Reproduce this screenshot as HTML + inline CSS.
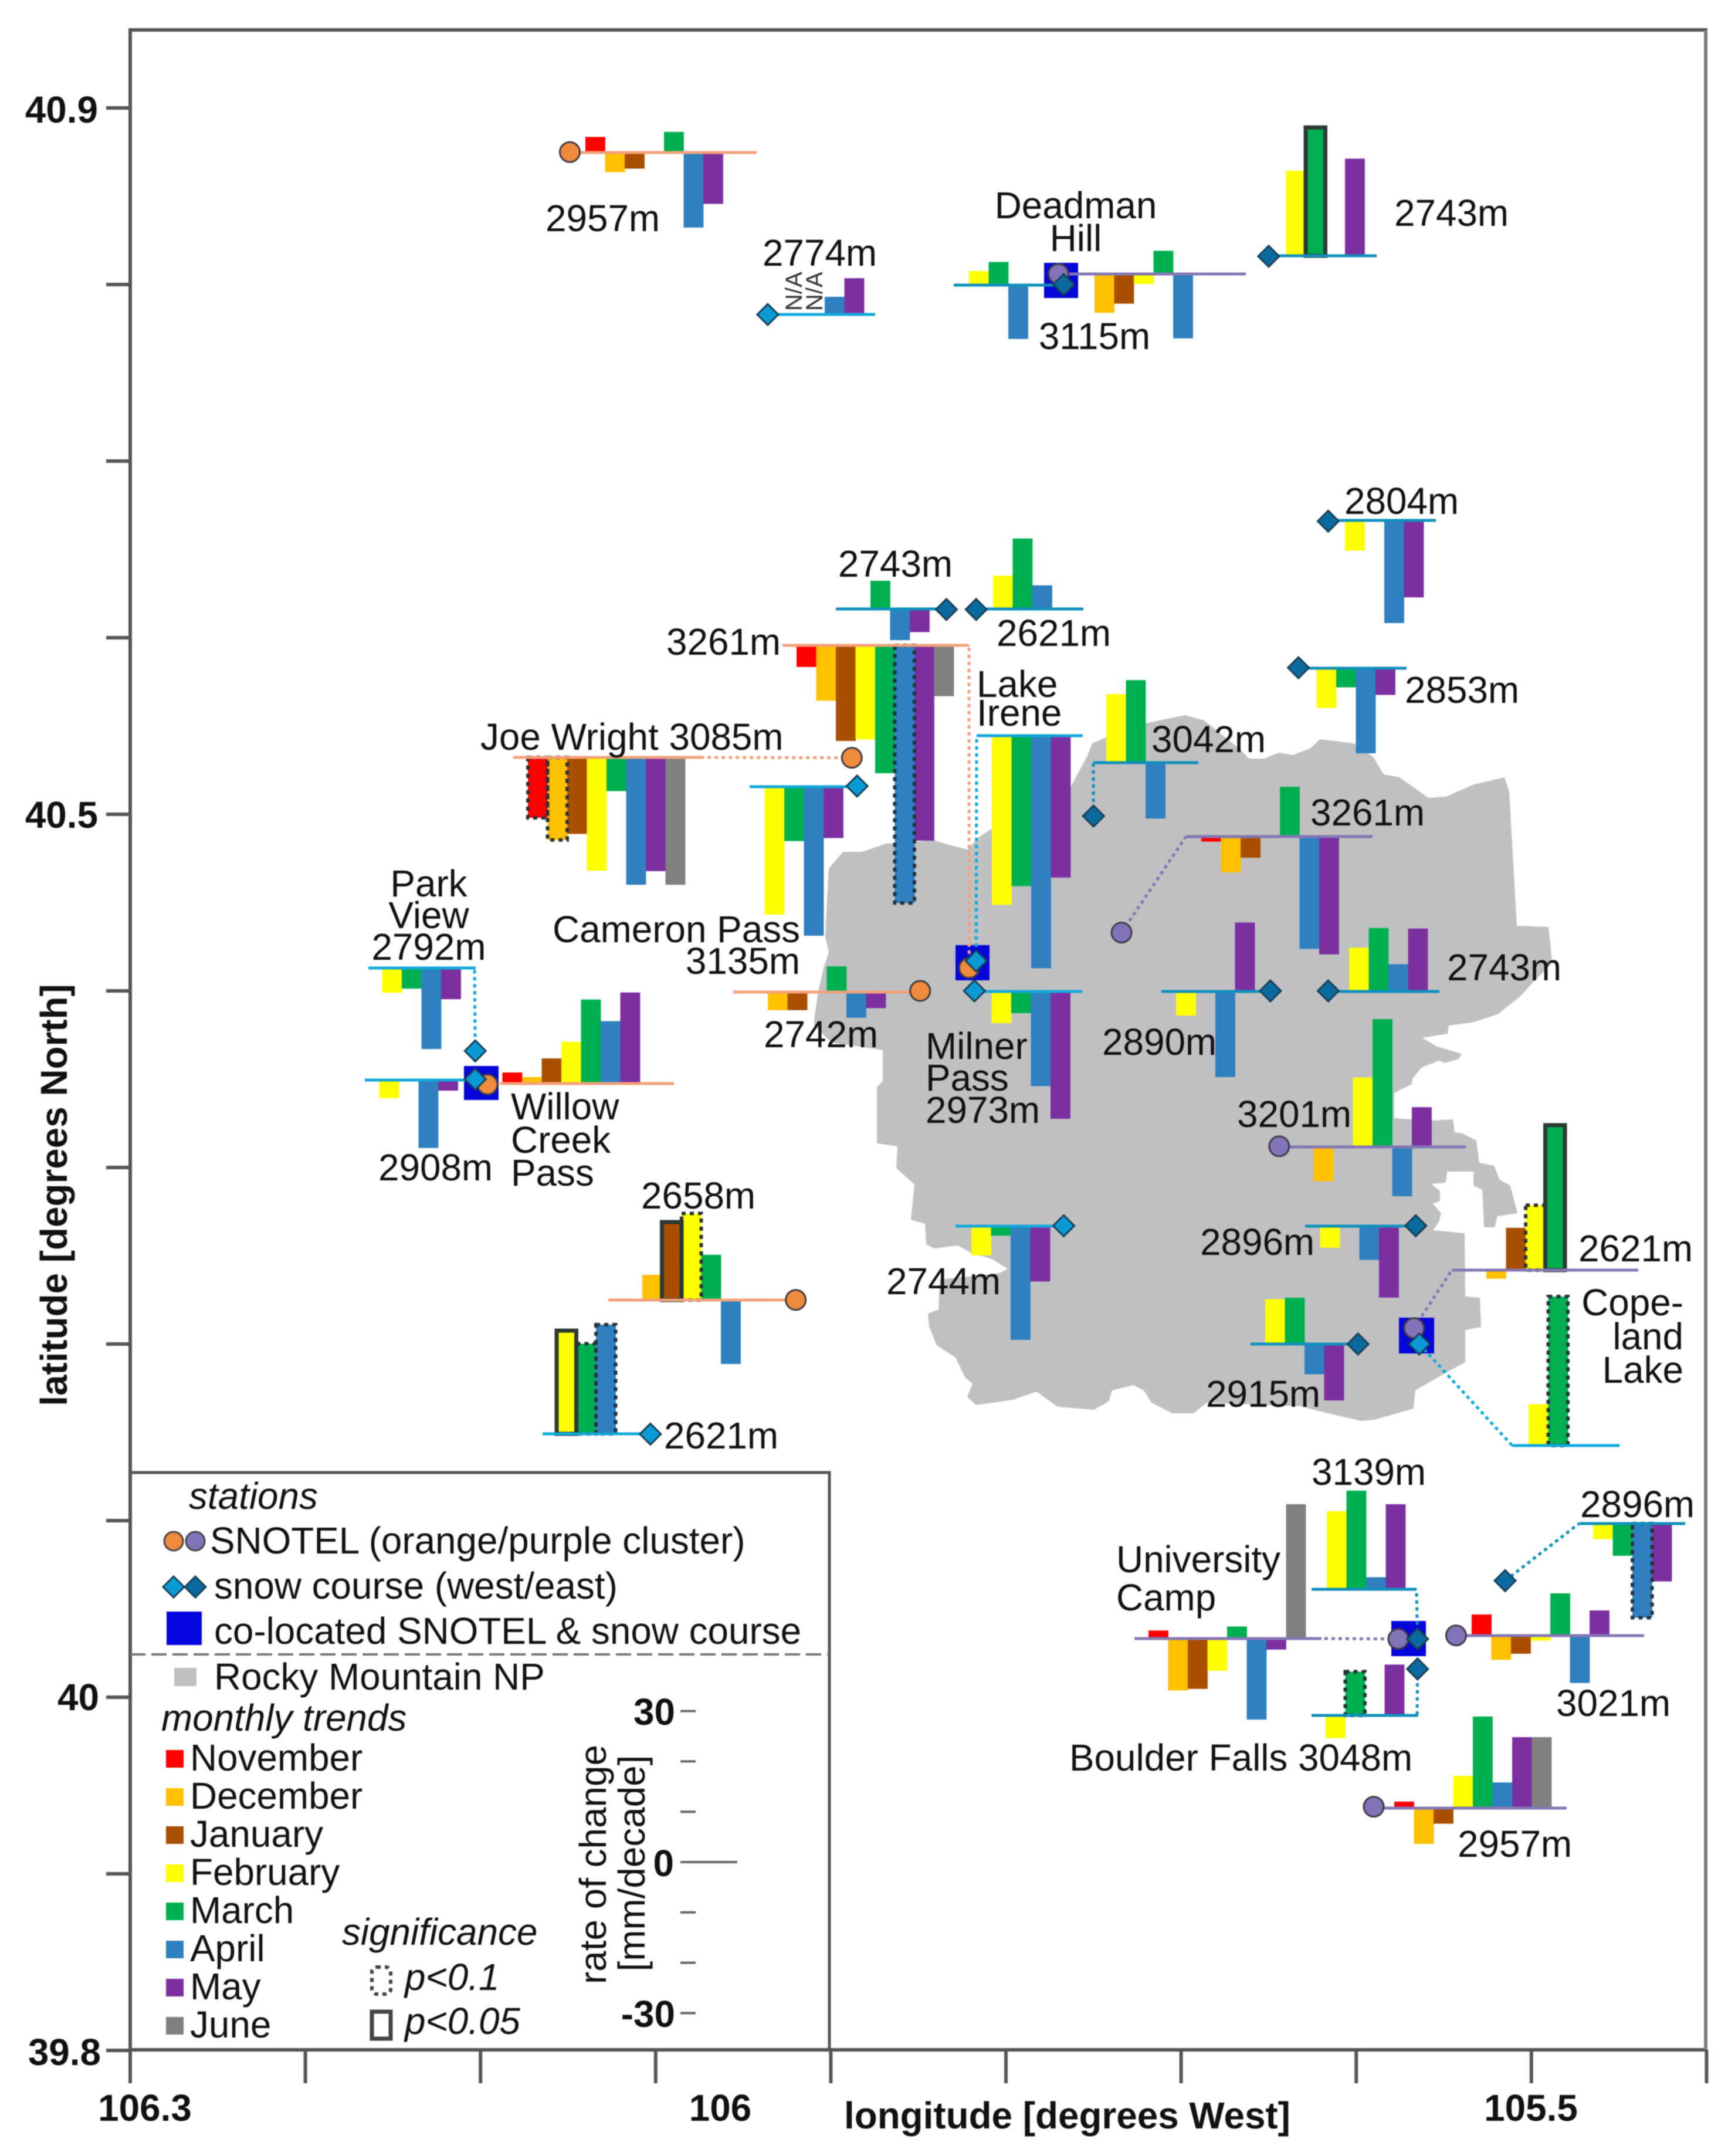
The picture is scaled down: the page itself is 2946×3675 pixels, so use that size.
<!DOCTYPE html>
<html lang="en">
<head>
<meta charset="utf-8">
<title>Monthly snow trends by station</title>
<style>
html,body{margin:0;padding:0;background:#fff;}
svg{display:block;filter:blur(0.7px);}
text{font-family:"Liberation Sans",sans-serif;fill:#111;font-size:63.8px;}
.b{font-weight:bold;}
.i{font-style:italic;}
</style>
</head>
<body>
<svg id="chart" xmlns="http://www.w3.org/2000/svg" width="2946" height="3675" viewBox="0 0 2946 3675">
<rect width="2946" height="3675" fill="#fff"/>
<polygon fill="#bfc0c2" points="1690,1413 1667,1428 1650,1448 1617,1440 1593,1432 1510,1438 1470,1452 1437,1452 1413,1480 1410,1533 1407,1597 1413,1623 1405,1647 1395,1690 1388,1737 1388,1747 1417,1777 1505,1790 1505,1843 1495,1853 1495,1949 1530,1954 1528,1991 1559,2019 1557,2040 1553,2079 1577,2086 1579,2121 1593,2128 1633,2123 1655,2135 1691,2146 1718,2163 1704,2170 1602,2181 1600,2232 1582,2239 1584,2261 1597,2293 1629,2314 1646,2349 1658,2358 1649,2381 1664,2395 1727,2386 1767,2372 1803,2398 1865,2403 1890,2389 1896,2370 1932,2361 1950,2370 1963,2391 1999,2409 2035,2409 2057,2391 2217,2397 2256,2407 2320,2422 2343,2420 2410,2401 2413,2370 2463,2341 2498,2322 2498,2267 2525,2262 2523,2212 2498,2210 2497,2102 2443,2097 2453,2083 2457,2068 2443,2052 2455,2047 2455,2030 2440,2018 2465,2016 2467,1997 2512,1997 2512,2021 2527,2028 2530,2092 2548,2092 2553,2073 2587,2068 2575,2021 2557,2011 2547,1987 2522,1982 2517,1944 2493,1932 2480,1930 2477,1908 2440,1910 2377,1906 2377,1863 2407,1848 2408,1839 2423,1820 2453,1808 2463,1812 2487,1805 2492,1796 2450,1784 2425,1769 2468,1762 2470,1748 2510,1743 2553,1729 2590,1700 2614,1674 2646,1642 2644,1617 2640,1580 2586,1578 2573,1350 2565,1325 2513,1337 2465,1358 2435,1360 2386,1325 2359,1320 2341,1290 2307,1267 2250,1260 2235,1275 2204,1287 2180,1283 2156,1293 2129,1293 2114,1277 2053,1228 2020,1219 2005,1222 1953,1233 1883,1258 1862,1267 1853,1290 1826,1340 1750,1380"/>
<rect x="222" y="51" width="2686" height="3443" fill="none" stroke="#555" stroke-width="6"/>
<line x1="2908" y1="51" x2="2908" y2="3494" stroke="#7d7d7d" stroke-width="6"/>
<g id="axis-ticks"></g>

<g fill="#0606d8">
<rect x="1780" y="448" width="58" height="60"/>
<rect x="1629" y="1611" width="58" height="60"/>
<rect x="791" y="1817" width="59" height="58"/>
<rect x="2385" y="2246" width="60" height="61"/>
<rect x="2372" y="2763" width="59" height="60"/>
</g>

<g id="stations"></g>

<g>
<text transform="translate(1367,530) rotate(-90)" style="font-size:40px;fill:#333">N/A</text>
<text transform="translate(1402,530) rotate(-90)" style="font-size:40px;fill:#333">N/A</text>
</g>

<g>
<text x="930" y="394">2957m</text>
<text x="1300" y="453">2774m</text>
<text x="1834" y="372" text-anchor="middle">Deadman</text>
<text x="1834" y="428" text-anchor="middle">Hill</text>
<text x="1866" y="595" text-anchor="middle">3115m</text>
<text x="2377" y="385">2743m</text>
<text x="2292" y="876">2804m</text>
<text x="2395" y="1198">2853m</text>
<text x="1963" y="1282">3042m</text>
<text x="2234" y="1407">3261m</text>
<text x="2467" y="1671">2743m</text>
<text x="1879" y="1798">2890m</text>
<text x="1578" y="1805">Milner</text>
<text x="1578" y="1859">Pass</text>
<text x="1578" y="1914">2973m</text>
<text x="1665" y="1188">Lake</text>
<text x="1665" y="1237">Irene</text>
<text x="1136" y="1116">3261m</text>
<text x="1624" y="983" text-anchor="end">2743m</text>
<text x="1699" y="1101">2621m</text>
<text x="819" y="1278">Joe Wright 3085m</text>
<text x="1364" y="1606" text-anchor="end">Cameron Pass</text>
<text x="1364" y="1660" text-anchor="end">3135m</text>
<text x="1302" y="1785">2742m</text>
<text x="731" y="1528" text-anchor="middle">Park</text>
<text x="731" y="1582" text-anchor="middle">View</text>
<text x="731" y="1636" text-anchor="middle">2792m</text>
<text x="645" y="2012">2908m</text>
<text x="871" y="1908">Willow</text>
<text x="871" y="1965">Creek</text>
<text x="871" y="2021">Pass</text>
<text x="1093" y="2060">2658m</text>
<text x="1132" y="2469">2621m</text>
<text x="1511" y="2206">2744m</text>
<text x="2046" y="2139">2896m</text>
<text x="2109" y="1921">3201m</text>
<text x="2056" y="2398">2915m</text>
<text x="2691" y="2150">2621m</text>
<text x="2870" y="2242" text-anchor="end">Cope-</text>
<text x="2870" y="2300" text-anchor="end">land</text>
<text x="2870" y="2357" text-anchor="end">Lake</text>
<text x="2236" y="2531">3139m</text>
<text x="1903" y="2680">University</text>
<text x="1903" y="2745">Camp</text>
<text x="1823" y="3018">Boulder Falls 3048m</text>
<text x="2653" y="2925">3021m</text>
<text x="2694" y="2586">2896m</text>
<text x="2485" y="3165">2957m</text>
</g>

<g>
<text class="b" x="167" y="209" text-anchor="end">40.9</text>
<text class="b" x="167" y="1411" text-anchor="end">40.5</text>
<text class="b" x="169" y="2915" text-anchor="end">40</text>
<text class="b" x="172" y="3520" text-anchor="end">39.8</text>
<text class="b" x="247" y="3615" text-anchor="middle">106.3</text>
<text class="b" x="1228" y="3615" text-anchor="middle">106</text>
<text class="b" x="2610" y="3615" text-anchor="middle">105.5</text>
<text class="b" x="1439" y="3628">longitude [degrees West]</text>
<text class="b" transform="translate(114,2037) rotate(-90)" text-anchor="middle">latitude [degrees North]</text>
</g>

<g>
<rect x="222" y="2510" width="1192" height="984" fill="none" stroke="#555" stroke-width="5"/>
<line x1="222" y1="2820" x2="1414" y2="2820" stroke="#777" stroke-width="4" stroke-dasharray="26 10"/>
<text class="i" x="322" y="2572">stations</text>
<circle cx="296" cy="2627" r="16" fill="#f08a3c" stroke="#444" stroke-width="3"/>
<circle cx="333" cy="2627" r="16" fill="#8273b8" stroke="#444" stroke-width="3"/>
<text x="358" y="2648">SNOTEL (orange/purple cluster)</text>
<polygon points="296,2687 314,2705 296,2723 278,2705" fill="#0a9bd6" stroke="#173f55" stroke-width="3"/>
<polygon points="333,2687 351,2705 333,2723 315,2705" fill="#0b6a9e" stroke="#173f55" stroke-width="3"/>
<text x="365" y="2725">snow course (west/east)</text>
<rect x="284" y="2747" width="60" height="57" fill="#0606e0"/>
<text x="365" y="2802">co-located SNOTEL &amp; snow course</text>
<rect x="297" y="2843" width="38" height="31" fill="#bfc0c2"/>
<text x="365" y="2880">Rocky Mountain NP</text>
<text class="i" x="275" y="2950">monthly trends</text>
<g id="legend-months"></g>
<text class="i" x="583" y="3315">significance</text>
<rect x="634" y="3353" width="32" height="46" rx="8" fill="none" stroke="#444" stroke-width="6" stroke-dasharray="7 7"/>
<text class="i" x="690" y="3392">p&lt;0.1</text>
<rect x="634" y="3429" width="32" height="46" fill="none" stroke="#444" stroke-width="7"/>
<text class="i" x="690" y="3467">p&lt;0.05</text>
<text class="b" x="1151" y="2940" text-anchor="end">30</text>
<text class="b" x="1149" y="3198" text-anchor="end">0</text>
<text class="b" x="1151" y="3455" text-anchor="end">-30</text>
<text transform="translate(1033,3178) rotate(-90)" text-anchor="middle">rate of change</text>
<text transform="translate(1099,3176) rotate(-90)" text-anchor="middle">[mm/decade]</text>
<g id="rate-ticks"></g>
</g>
</svg>

<script>
const months = ['November','December','January','February','March','April','May','June'];
const latTicks = [40.9,40.8,40.7,40.6,40.5,40.4,40.3,40.2,40.1,40.0,39.9,39.8];
const lonTicks = [106.3,106.2,106.1,106.0,105.9,105.8,105.7,105.6,105.5,105.4];
const rateTicks = [30,20,10,0,-10,-20,-30];

const stationNames = ['2957m north','2774m','Deadman Hill course','Deadman Hill 3115m','2743m north','2804m','2853m','3042m','3261m east','2743m east','2890m','Milner Pass 2973m','Lake Irene','3261m west','2743m mid','2621m mid','Joe Wright 3085m','Cameron Pass 3135m','2742m','Park View 2792m','2908m','Willow Creek Pass','2658m','2621m southwest','2744m','2896m park','3201m','2915m','2621m east','Copeland Lake','University Camp','3139m','Boulder Falls 3048m','3021m','2896m east','2957m south'];
const stationTypes = ['o','w','e','p','e','e','e','e','p','e','e','w','w','o','e','e','o','w','o','w','w','o','o','w','w','e','p','e','p','w','p','e','e','p','e','p'];
const stationLon = [106.049,105.936,105.767,105.770,105.650,105.616,105.633,105.750,105.734,105.616,105.649,105.818,105.817,105.821,105.834,105.817,105.888,105.885,105.849,106.103,106.103,106.096,105.920,106.003,105.767,105.566,105.644,105.599,105.567,105.564,105.576,105.565,105.565,105.543,105.515,105.590];
const stationLat = [40.875,40.783,40.800,40.806,40.816,40.666,40.583,40.499,40.433,40.400,40.400,40.400,40.417,40.413,40.616,40.616,40.532,40.516,40.400,40.366,40.350,40.347,40.225,40.149,40.267,40.267,40.312,40.200,40.209,40.200,40.033,40.033,40.016,40.035,40.066,39.938];

// rate of change [mm/decade], Nov..Jun, one row per station
const stationTrends = [
[3.1,-3.9,-3.2,0,4.1,-14.9,-10.2,0],
[0,0,0,0,0,3.5,7.2,0],
[0,0,0,2.8,4.6,-10.7,0,0],
[0,-7.7,-5.9,-2,4.6,-12.8,0,0],
[0,0,0,16.9,25.5,0,19.3,0],
[0,0,0,-6,0,-20.4,-15.3,0],
[0,0,0,-7.9,-3.8,-16.9,-5.3,0],
[0,0,0,13.6,16.4,-11.1,0,0],
[-1,-7.1,-4.2,0,9.9,-22.3,-23.4,0],
[0,0,0,8.7,12.6,5.4,12.5,0],
[0,0,0,-4.8,0,-17,13.7,0],
[0,0,0,-6.3,-4.3,-18.8,-25.3,0],
[0,0,0,-33.6,-29.9,-46.2,-28.2,0],
[-4.3,-11,-19,-18.7,-25.4,-51.2,-38.8,-10.1],
[0,0,0,0,5.6,-6.2,-4.6,0],
[0,0,0,6.6,14,4.7,0,0],
[-12,-16.4,-15.2,-22.5,-6.7,-25.3,-22.6,-25.3],
[0,0,0,-25.4,-10.8,-29.6,-10.2,0],
[0,-3.6,-3.6,0,5.1,-5.1,-3.2,0],
[0,0,0,-4.9,-4.1,-16.1,-6.2,0],
[0,0,0,-3.6,0,-13.5,-2.1,0],
[2.2,1.3,5,8.3,16.7,12.4,18.1,0],
[0,5,15.5,17.2,9,-12.7,0,0],
[0,0,0,20.5,17.9,21.7,0,0],
[0,0,0,-5.8,-1.9,-22.6,-11,0],
[0,0,0,-4.3,0,-6.7,-14.2,0],
[0,-6.8,0,13.8,25.4,-9.8,7.9,0],
[0,0,0,8.9,9.2,-6,-11.2,0],
[0,-1.7,8.4,12.9,28.8,0,0,0],
[0,0,0,8.2,29.6,0,0,0],
[1.6,-10.3,-10,-6.4,2.4,-16.1,-2.2,26.7],
[0,0,0,15.5,19.6,2.4,16.9,0],
[0,0,0,-4.5,8.7,0,10.1,0],
[4.2,-4.8,-3.6,-1,8.4,-9.4,5,0],
[0,0,0,-3.1,-6.4,-18.7,-11.5,0],
[1.3,-7.1,-3.1,6.4,18.2,5.1,14.1,14.1]
];

// significance: [station index, month index]
const significantP10 = [[13,5],[16,0],[16,1],[22,3],[23,4],[23,5],[28,3],[29,4],[32,4],[34,5]];
const significantP05 = [[4,4],[22,2],[23,3],[28,4]];

// presentation only: where each small inset sits on the page
const MONTH_COLORS = ['#ff0000','#ffc000','#a94f00','#ffff00','#00b050','#2f80c0','#7c30a0','#808080'];
const LINE_COLORS = {o:'#f2a27a',p:'#8577b5',w:'#12a8da',e:'#1190bc'};
const MARKER_COLORS = {o:'#f08a3c',p:'#8273b8',w:'#0a9bd6',e:'#0b6a9e'};
const INSET_LAYOUT = [
{x0:998,y:260,a:986,b:1290},{x0:1238.5,y:536,a:1310,b:1492},{x0:1551.5,y:486,a:1626,b:1813},{x0:1832.5,y:467,a:1804,b:2124},
{x0:2092,y:436,a:2164,b:2347},{x0:2192.5,y:887,a:2265,b:2448},{x0:2144,y:1139,a:2214,b:2398},{x0:1785.5,y:1300,a:1864,b:2043,cx:1864,cy:1300},
{x0:2048,y:1426,a:2022,b:2340,cx:2022,cy:1426},{x0:2199.5,y:1690,a:2265,b:2454},{x0:1904.5,y:1690,a:1980,b:2167},{x0:1590,y:1690,a:1662,b:1845},
{x0:1590.5,y:1254,a:1665,b:1846,cx:1665,cy:1254},{x0:1358,y:1100,a:1334,b:1652,cx:1652,cy:1100},{x0:1350,y:1038,a:1425,b:1613},{x0:1592.5,y:1038,a:1663,b:1847},
{x0:900,y:1291,a:875,b:1196,cx:1196,cy:1291},{x0:1203,y:1341,a:1278,b:1462},{x0:1275.5,y:1691,a:1250,b:1570},{x0:551,y:1650,a:628,b:811,cx:809,cy:1650},
{x0:546,y:1841,a:622,b:809},{x0:856.5,y:1847,a:852,b:1149},{x0:1061.5,y:2216,a:1037,b:1356},{x0:848.5,y:2444,a:925,b:1109},
{x0:1555.5,y:2090,a:1629,b:1815},{x0:2150,y:2090,a:2225,b:2414},{x0:2206,y:1955,a:2180,b:2499},{x0:2056.5,y:2291,a:2132,b:2314},
{x0:2500.5,y:2165,a:2475,b:2793,cx:2475,cy:2165},{x0:2505.5,y:2464,a:2578,b:2761,cx:2578,cy:2464},{x0:1958,y:2793,a:1934,b:2253,cx:2253,cy:2793},{x0:2161.5,y:2709,a:2236,b:2415,cx:2415,cy:2709},
{x0:2159.5,y:2924,a:2236,b:2418,cx:2416,cy:2924},{x0:2509,y:2788,a:2483,b:2803},{x0:2615.5,y:2597,a:2692,b:2873,cx:2692,cy:2597},{x0:2377,y:3082,a:2342,b:2671}
];

const NS = 'http://www.w3.org/2000/svg';
const SLOT = 33.5;

function xScale(lon){ return 222 + (106.3 - lon) / 0.1 * 298.6; }
function yScale(lat){ return 184 + (40.9 - lat) / 0.1 * 301; }
function rateHeight(v){ return v * 8.58; }
function rateY(v){ return 3174 - rateHeight(v); }

function shape(parent, tag, attrs){
  const el = document.createElementNS(NS, tag);
  Object.keys(attrs).forEach(function(k){ el.setAttribute(k, attrs[k]); });
  parent.appendChild(el);
  return el;
}
function hasFlag(list, s, m){
  return list.some(function(p){ return p[0] === s && p[1] === m; });
}

// map axes
const tickGroup = document.getElementById('axis-ticks');
latTicks.forEach(function(lat){
  const y = yScale(lat);
  const el = shape(tickGroup, 'line', {x1:181, x2:222, y1:y, y2:y, stroke:'#555', 'stroke-width':6});
  
  
});
lonTicks.forEach(function(lon){
  const x = xScale(lon);
  const el = shape(tickGroup, 'line', {x1:x, x2:x, y1:3494, y2:3551, stroke:'#555', 'stroke-width':6});
  
  
});

// rate scale
const rateGroup = document.getElementById('rate-ticks');
rateTicks.forEach(function(v){
  const y = rateY(v);
  const el = shape(rateGroup, 'line', {x1:1160, x2:v === 0 ? 1257 : 1186, y1:y, y2:y, stroke:'#666', 'stroke-width':4});
  
  
});

// legend months
const monthGroup = document.getElementById('legend-months');
months.forEach(function(m, i){
  const sw = shape(monthGroup, 'rect', {x:283, y:2983 + i * 65, width:30, height:30, fill:MONTH_COLORS[i]});
  
  
  const t = shape(monthGroup, 'text', {x:324, y:3018 + i * 65});
  t.textContent = m;
  
  
});

// station insets
const root = document.getElementById('stations');
const circleLayer = document.createElementNS(NS, 'g');
const diamondLayer = document.createElementNS(NS, 'g');
stationNames.forEach(function(name, s){
  const L = INSET_LAYOUT[s];
  const type = stationTypes[s];
  const slug = name.toLowerCase().replace(/[^a-z0-9]+/g, '-');
  const g = shape(root, 'g', {});
  
  
  stationTrends[s].forEach(function(v, m){
    if (v === 0) return;
    const h = Math.abs(rateHeight(v));
    const top = v > 0 ? L.y - h : L.y;
    const x = L.x0 + m * SLOT;
    const bar = shape(g, 'rect', {x:x, y:top, width:SLOT + 0.4, height:h, fill:MONTH_COLORS[m]});
    
    
  });
  stationTrends[s].forEach(function(v, m){
    if (v === 0) return;
    const p10 = hasFlag(significantP10, s, m);
    const p05 = hasFlag(significantP05, s, m);
    if (!p10 && !p05) return;
    const h = Math.abs(rateHeight(v));
    const top = v > 0 ? L.y - h : L.y;
    const box = shape(g, 'rect', {x:L.x0 + m * SLOT, y:top, width:SLOT, height:h, fill:'none', stroke:p05 ? '#2b3a34' : '#27323c', 'stroke-width':p05 ? 7 : 6, 'stroke-dasharray':p05 ? 'none' : '7 7'});
    
    
  });
  const base = shape(g, 'line', {x1:L.a, x2:L.b, y1:L.y, y2:L.y, stroke:LINE_COLORS[type], 'stroke-width':5});
  
  
  const mx = xScale(stationLon[s]);
  const my = yScale(stationLat[s]);
  if (L.cx !== undefined) {
    const link = shape(g, 'line', {x1:mx, y1:my, x2:L.cx, y2:L.cy, stroke:LINE_COLORS[type], 'stroke-width':5, 'stroke-dasharray':'6 6'});
    
    
  }
  let marker;
  if (type === 'o' || type === 'p') {
    marker = shape(circleLayer, 'circle', {cx:mx, cy:my, r:17, fill:MARKER_COLORS[type], stroke:'#3f3a44', 'stroke-width':3});
  } else {
    const r = 18;
    marker = shape(diamondLayer, 'polygon', {points:mx + ',' + (my - r) + ' ' + (mx + r) + ',' + my + ' ' + mx + ',' + (my + r) + ' ' + (mx - r) + ',' + my, fill:MARKER_COLORS[type], stroke:'#173f55', 'stroke-width':3});
  }
  
  
});




root.appendChild(circleLayer);
root.appendChild(diamondLayer);
</script>
</body>
</html>
